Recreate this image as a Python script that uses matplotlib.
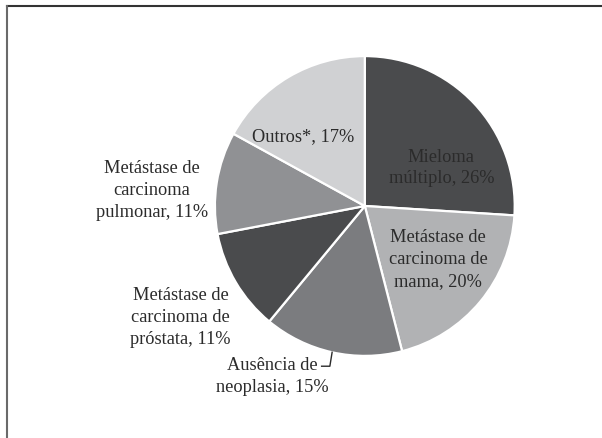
import numpy as np
import matplotlib
matplotlib.use("Agg")
import matplotlib.pyplot as plt

# dados do gráfico (% dos casos)
labels = ["Mieloma\nmúltiplo, 26%",
          "Metástase de\ncarcinoma de\nmama, 20%",
          "Ausência de\nneoplasia, 15%",
          "Metástase de\ncarcinoma de\npróstata, 11%",
          "Metástase de\ncarcinoma\npulmonar, 11%",
          "Outros*, 17%"]
values = [26, 20, 15, 11, 11, 17]
colors = ["#4a4b4d", "#b1b2b4", "#7b7c7f", "#4a4b4d", "#909194", "#d0d1d3"]

plt.rcParams['font.family'] = ['Liberation Serif', 'DejaVu Serif']

fig = plt.figure(figsize=(6.02, 4.39), dpi=100)
ax = fig.add_axes([0.357, 0.187, 0.498, 0.683])

wedges, _ = ax.pie(values, colors=colors, startangle=90, counterclock=False,
                   radius=1, wedgeprops=dict(edgecolor="white", linewidth=1.6))
ax.set_xlim(-1, 1)
ax.set_ylim(-1, 1)
ax.set_aspect("equal")
ax.axis("off")

# coordenadas dos rótulos
text_xy = [(0.51, 0.26), (0.49, -0.35), (-0.62, -1.13),
           (-1.23, -0.74), (-1.42, 0.11), (-0.41, 0.47)]

for i, lab in enumerate(labels):
    x, y = text_xy[i]
    ax.text(x, y, lab, ha="center", va="center", fontsize=13.2,
            color="#2b2b2b", linespacing=1.38, clip_on=False)

# linha de chamada para "Ausência de neoplasia"
w = wedges[2]
mid = np.deg2rad((w.theta1 + w.theta2) / 2)
ex, ey = np.cos(mid), np.sin(mid)
ax.plot([ex - 0.07, ex - 0.015, ex], [ey - 0.093, ey - 0.093, ey],
        color="#2b2b2b", lw=1.0, clip_on=False)

# moldura (só topo e esquerda visíveis)
fig.add_artist(plt.Line2D([0.011, 1.0], [0.985, 0.985], color="#333333", lw=1.5,
                          transform=fig.transFigure))
fig.add_artist(plt.Line2D([0.011, 0.011], [0.0, 0.985], color="#6a6a6a", lw=1.5,
                          transform=fig.transFigure))

fig.savefig("out.png", dpi=100)
